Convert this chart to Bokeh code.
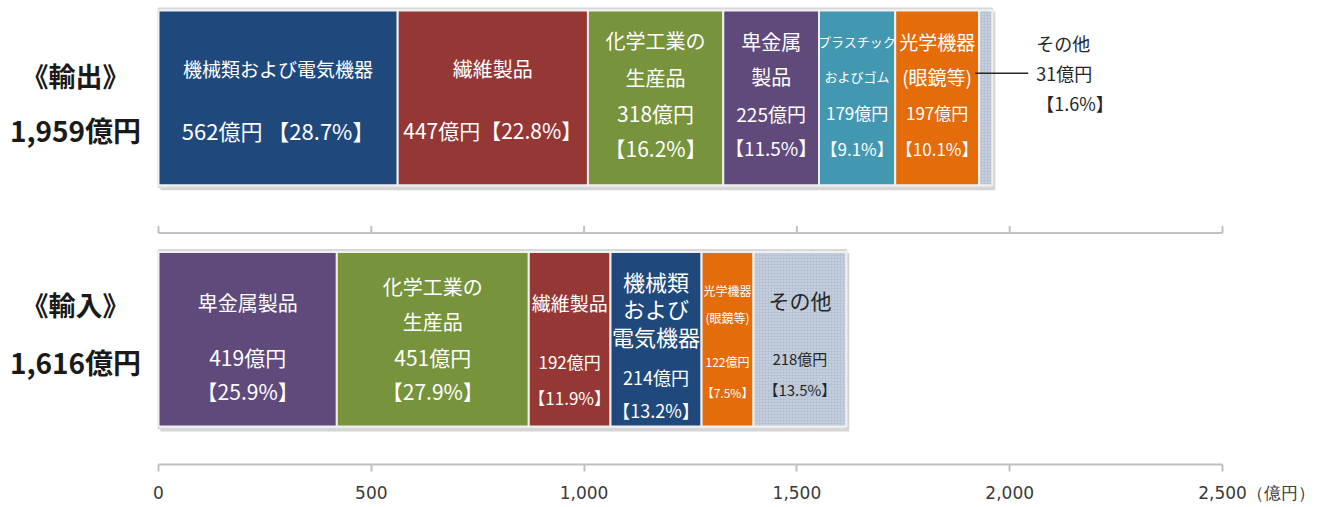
from bokeh.plotting import figure
from bokeh.models import Range1d, FixedTicker, NumeralTickFormatter
from bokeh.core.properties import value
from bokeh.embed import file_html
from bokeh.resources import INLINE

# ---------------- data ----------------
export_names = ["機械類および電気機器", "繊維製品", "化学工業の\n生産品", "卑金属\n製品",
                "プラスチック\nおよびゴム", "光学機器\n(眼鏡等)", "その他"]
export_values = [562, 447, 318, 225, 179, 197, 31]
export_pct = [28.7, 22.8, 16.2, 11.5, 9.1, 10.1, 1.6]
export_total = 1959

import_names = ["卑金属製品", "化学工業の\n生産品", "繊維製品", "機械類\nおよび\n電気機器",
                "光学機器\n(眼鏡等)", "その他"]
import_values = [419, 451, 192, 214, 122, 218]
import_pct = [25.9, 27.9, 11.9, 13.2, 7.5, 13.5]
import_total = 1616

row_titles = ["《輸出》", "《輸入》"]
row_totals = ["1,959億円", "1,616億円"]
x_ticks = [0, 500, 1000, 1500, 2000, 2500]
unit_label = "（億円）"

# ---------------- colours / layout ----------------
BLUE, RED, GREEN, PURPLE, TEAL, ORANGE, GRAY = (
    "#1F497D", "#953735", "#77933C", "#604A7B", "#4298B1", "#E46C0A", "#B7C3D4")
export_colors = [BLUE, RED, GREEN, PURPLE, TEAL, ORANGE, GRAY]
import_colors = [PURPLE, GREEN, RED, BLUE, ORANGE, GRAY]

FONT = "Noto Sans CJK JP"
W, H = 1320, 505
MB = 40
FRAME_H = H - MB                 # frame spans canvas rows 0..465
PX = 242.0                       # pixels per y unit
XPX = 1064 / 2500.0              # pixels per x unit
X_ORIGIN = 158                   # pixel of x = 0
EXP_C, IMP_C = 97.5, 339.5       # pixel rows of bar centres
Y1 = 1 + EXP_C / PX
Y0 = Y1 - FRAME_H / PX
BAR_H = 0.74
LH_K = 1.44                      # bokeh line-height factor for this font

p = figure(width=W, height=H, output_backend="svg", toolbar_location=None,
           x_range=Range1d(-X_ORIGIN / XPX, (W - X_ORIGIN) / XPX),
           y_range=Range1d(Y0, Y1),
           min_border_left=0, min_border_right=0, min_border_top=0,
           min_border_bottom=MB)
p.outline_line_color = None
p.xgrid.visible = False
p.ygrid.visible = False
p.yaxis.visible = False
p.background_fill_color = "white"

ax = p.xaxis[0]
ax.bounds = (x_ticks[0], x_ticks[-1])
ax.ticker = FixedTicker(ticks=x_ticks)
ax.formatter = NumeralTickFormatter(format="0,0")
ax.major_label_overrides = {x_ticks[-1]: "\u3000" * 4 + "2,500" + unit_label}
ax.axis_line_color = "#c0c0c0"
ax.axis_line_width = 2
ax.major_tick_line_color = "#c0c0c0"
ax.major_tick_line_width = 2
ax.major_tick_out = 7
ax.major_tick_in = 0
ax.minor_tick_line_color = None
ax.major_label_standoff = 11
ax.major_label_text_font = "DejaVu Sans"
ax.major_label_text_font_size = "17px"
ax.major_label_text_color = "#3a3a3a"


def dy(px):
    return -px / PX


def draw_bar(yc, values, colors, total):
    lefts, rights = [], []
    acc = 0
    for v in values:
        lefts.append(acc)
        acc += v
        rights.append(acc)
    # shadow and outline
    p.hbar(y=yc + dy(3), left=0 + 2 / XPX, right=total + 3 / XPX, height=BAR_H,
           fill_color="#d4d4d4", line_color=None)
    p.hbar(y=yc, left=0, right=total, height=BAR_H, fill_color="#f4f4f4",
           line_color="#d8d8d8", line_width=2)
    for l, r, c in zip(lefts, rights, colors):
        kw = {}
        if c == GRAY:
            kw = dict(hatch_pattern="dot", hatch_color="#dfe5ee", hatch_scale=3,
                      hatch_weight=1)
        p.hbar(y=yc, left=l, right=r, height=BAR_H - 4 / PX, fill_color=c,
               line_color="#f0f0f0", line_width=2, **kw)
    return lefts, rights


def put(x, y, txt, size, lh_px=None, color="white", align="center", bold=False):
    lh = (lh_px / (size * LH_K)) if lh_px else 1.2
    p.text(x=[x], y=[y], text=[txt], text_font=value(FONT),
           text_font_size=f"{size}px", text_align=align, text_baseline="middle",
           text_color=color, text_line_height=lh,
           text_font_style="bold" if bold else "normal")


# ---- exports (y = 1) ----
el, er = draw_bar(1, export_values, export_colors, export_total)
exp_layout = [  # name size, name lh, name dy, value size, value lh, value dy, one-line sep
    (19, 35, -29.5, 22, 35, 32.5, " "),
    (20, 35, -29.5, 21, 35, 32.5, ""),
    (20, 37, -39, 21, 35, 33, None),
    (20, 35, -39, 19, 35, 33, None),
    (13, 35, -39, 17, 35, 33, None),
    (19, 35, -39, 17, 35, 33, None),
]
for i, lay in enumerate(exp_layout):
    ns, nlh, ndy, vs, vlh, vdy, sep = lay
    xc = (el[i] + er[i]) / 2
    put(xc, 1 + dy(ndy), export_names[i], ns, nlh)
    vtxt = (f"{export_values[i]}億円{sep}【{export_pct[i]}%】" if sep is not None
            else f"{export_values[i]}億円\n【{export_pct[i]}%】")
    put(xc, 1 + dy(vdy), vtxt, vs, vlh)

# export "その他" outside label with leader line
oy = 1 + dy(-24.5)
p.segment(x0=[export_total - 17 / XPX], x1=[export_total + 36 / XPX], y0=[oy], y1=[oy],
          line_color="#262626", line_width=1.5)
put(export_total + 44 / XPX, oy,
    f"{export_names[6]}\n{export_values[6]}億円\n【{export_pct[6]}%】", 18, 30,
    color="#262626", align="left")

# ---- imports (y = 0) ----
il, ir = draw_bar(0, import_values, import_colors, import_total)
imp_layout = [
    (20, 35, -36.5, 21, 34, 34.5, "white"),
    (20, 35, -35, 21, 34, 34.5, "white"),
    (19, 35, -36.5, 17, 35, 40, "white"),
    (22, 27.5, -31, 18, 33, 54, "white"),
    (12, 28, -35.5, 12, 31, 38, "white"),
    (21, 35, -39.5, 15, 32, 34.5, "#262626"),
]
for i, lay in enumerate(imp_layout):
    ns, nlh, ndy, vs, vlh, vdy, col = lay
    xc = (il[i] + ir[i]) / 2
    put(xc, dy(ndy), import_names[i], ns, nlh, color=col)
    put(xc, dy(vdy), f"{import_values[i]}億円\n【{import_pct[i]}%】", vs, vlh, color=col)

# ---- middle axis (unlabelled) ----
ymid = Y1 - 233 / PX
p.segment(x0=[x_ticks[0]], x1=[x_ticks[-1]], y0=[ymid], y1=[ymid],
          line_color="#c0c0c0", line_width=2)
p.segment(x0=x_ticks, x1=x_ticks, y0=[ymid] * len(x_ticks),
          y1=[ymid + 7 / PX] * len(x_ticks), line_color="#c0c0c0", line_width=2)

# ---- row titles at left ----
xt = -83 / XPX
for yc, t, tot, d1, d2 in [(1, row_titles[0], row_totals[0], -22.5, 32.5),
                           (0, row_titles[1], row_totals[1], -34.5, 22.5)]:
    put(xt, yc + dy(d1), t, 27, color="#1a1a1a", bold=True)
    put(xt, yc + dy(d2), tot, 28, color="#1a1a1a", bold=True)

open("out.html", "w").write(file_html(p, INLINE))
